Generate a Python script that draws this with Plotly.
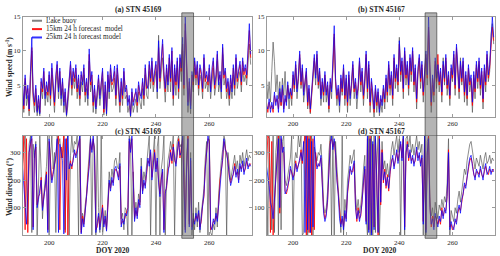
import plotly.graph_objects as go

# ---------------- data (0.5-day samples) ----------------
DOY_START = 190.0
DOY_STEP = 0.5

# (a) STN 45169 wind speed (m/s)
SPD_45169_BUOY = [
    4.0, 1.0, 5.5, 2.0, 3.5, 0.5, 5.0, 10.0, 3.0, 1.0,
    3.5, 0.5, 2.0, 0.5, 4.5, 3.0, 6.0, 2.0, 4.0, 2.5,
    5.5, 2.0, 6.5, 3.5, 1.0, 5.0, 7.0, 3.0, 6.0, 2.0,
    4.5, 1.0, 3.0, 0.4, 2.0, 4.5, 7.0, 3.5, 6.0, 4.5,
    6.5, 3.0, 5.0, 2.0, 5.5, 4.0, 6.5, 2.5, 4.5, 2.0,
    8.5, 4.0, 5.5, 1.0, 3.5, 0.8, 3.0, 5.0, 2.0, 4.0,
    6.0, 0.6, 4.0, 0.5, 5.5, 3.0, 6.5, 4.0, 4.5, 6.0,
    2.0, 6.5, 3.5, 1.0, 4.5, 2.0, 6.0, 3.0, 3.5, 1.0,
    2.0, 0.3, 3.0, 1.0, 2.0, 3.0, 1.0, 4.0, 2.5, 1.5,
    4.5, 2.0, 6.5, 3.5, 3.0, 7.0, 4.5, 7.5, 4.0, 6.0,
    7.0, 3.0, 12.3, 4.5, 7.5, 9.0, 5.5, 2.5, 6.5, 4.0,
    8.0, 4.0, 8.5, 2.0, 6.5, 3.5, 7.5, 3.0, 8.0, 5.5,
    10.0, 3.5, 13.0, 7.0, 1.0, 4.5, 0.8, 5.5, 4.0, 7.5,
    5.0, 7.0, 3.5, 6.5, 5.5, 3.0, 8.0, 4.5, 5.5, 4.0,
    6.5, 3.0, 6.0, 7.5, 3.5, 5.0, 8.5, 4.0, 5.5, 3.0,
    9.5, 5.0, 6.0, 3.0, 4.5, 2.0, 5.0, 3.0, 6.5, 3.5,
    8.0, 4.5, 6.0, 7.0, 4.0, 7.5, 5.5, 6.5, 5.0, 8.5,
    11.0, 8.0,
]
SPD_45169_15KM = [
    5.0, 1.5, 6.0, 3.5, 4.5, 1.2, 6.5, 10.5, 3.5, 2.0,
    4.5, 1.2, 3.0, 1.0, 5.5, 4.0, 7.0, 3.5, 5.0, 3.5,
    6.5, 3.0, 7.5, 4.5, 2.0, 6.0, 8.0, 4.5, 7.0, 3.5,
    5.5, 2.5, 4.0, 0.8, 3.0, 5.5, 8.0, 4.5, 7.0, 5.5,
    7.5, 4.0, 6.0, 3.0, 6.5, 5.5, 7.5, 3.5, 5.5, 3.5,
    9.5, 5.0, 6.5, 2.0, 4.5, 1.8, 4.0, 6.0, 3.5, 5.0,
    7.0, 1.0, 5.0, 1.2, 6.5, 4.5, 7.5, 5.0, 5.5, 7.0,
    3.0, 7.5, 4.5, 2.0, 5.5, 3.0, 7.0, 4.5, 4.5, 2.5,
    3.0, 0.8, 4.0, 2.5, 3.5, 4.0, 2.0, 5.0, 3.5, 3.5,
    5.5, 3.0, 7.5, 4.5, 5.0, 8.0, 5.5, 8.5, 5.0, 7.0,
    8.0, 4.5, 10.5, 5.5, 8.5, 11.0, 6.5, 4.0, 7.5, 5.5,
    9.0, 5.5, 10.0, 3.0, 7.5, 5.0, 8.5, 4.0, 9.0, 7.0,
    11.0, 4.5, 14.0, 8.5, 2.5, 5.5, 2.0, 6.5, 5.0, 8.5,
    6.0, 8.0, 4.5, 7.5, 6.5, 4.0, 9.0, 5.5, 6.5, 5.0,
    7.5, 4.5, 7.0, 8.5, 4.5, 6.0, 9.5, 5.5, 6.5, 4.5,
    10.5, 6.0, 7.0, 4.0, 5.5, 3.0, 6.0, 4.5, 7.5, 4.5,
    9.0, 5.5, 7.0, 8.0, 5.0, 8.5, 6.5, 7.5, 6.0, 9.5,
    13.0, 9.0,
]
SPD_45169_25KM = [
    5.5, 2.0, 6.5, 3.0, 5.0, 1.5, 7.0, 12.0, 4.0, 2.5,
    5.0, 1.0, 3.5, 0.8, 6.0, 4.5, 7.5, 3.0, 5.5, 4.0,
    7.0, 3.5, 8.2, 5.0, 2.5, 6.5, 8.5, 4.0, 7.5, 3.0,
    6.0, 2.0, 4.5, 0.6, 3.5, 6.0, 8.5, 5.0, 7.5, 6.0,
    8.0, 4.5, 6.5, 3.5, 7.0, 5.0, 8.0, 4.0, 6.0, 3.0,
    10.3, 5.5, 7.0, 2.5, 5.0, 1.5, 4.5, 6.5, 3.0, 5.5,
    7.5, 1.5, 5.5, 0.8, 7.0, 4.0, 8.0, 5.5, 6.0, 7.8,
    3.5, 8.0, 5.0, 2.5, 6.0, 3.5, 7.5, 4.0, 5.0, 2.0,
    3.5, 0.5, 4.5, 2.0, 3.0, 4.5, 2.5, 5.5, 4.0, 3.0,
    6.0, 3.5, 8.0, 5.0, 4.5, 8.5, 6.0, 9.0, 5.5, 7.5,
    8.5, 4.0, 11.5, 6.0, 9.0, 11.7, 7.0, 4.5, 8.0, 5.0,
    9.5, 6.0, 10.5, 3.5, 8.0, 5.5, 9.0, 4.5, 9.5, 7.5,
    12.0, 5.0, 15.0, 9.0, 2.0, 6.0, 1.5, 7.0, 5.5, 9.0,
    6.5, 8.5, 5.0, 8.0, 7.0, 4.5, 9.5, 6.0, 7.0, 5.5,
    8.0, 4.0, 7.5, 9.0, 5.0, 6.5, 10.0, 5.0, 7.0, 4.0,
    11.0, 6.5, 7.5, 4.5, 6.0, 3.5, 6.5, 4.0, 8.0, 5.0,
    9.5, 6.0, 7.5, 8.5, 5.5, 9.0, 7.0, 8.0, 6.5, 10.0,
    14.0, 9.5,
]

# (b) STN 45167 wind speed (m/s)
SPD_45167_BUOY = [
    6.0, 3.0, 5.5, 2.5, 7.0, 11.3, 8.5, 4.0, 6.5, 3.0,
    5.5, 2.0, 6.0, 3.5, 7.0, 2.5, 5.0, 1.5, 4.5, 2.0,
    6.0, 4.0, 7.5, 3.0, 5.5, 9.0, 4.5, 7.0, 2.5, 5.0,
    6.5, 1.5, 4.0, 0.8, 3.0, 6.0, 8.5, 5.0, 9.0, 4.5,
    6.5, 2.0, 5.0, 2.5, 6.0, 2.5, 4.5, 1.0, 5.0, 3.0,
    7.0, 12.0, 5.0, 2.0, 4.0, 1.0, 5.5, 3.5, 7.0, 2.0,
    5.5, 1.0, 6.0, 2.0, 4.5, 7.5, 3.0, 5.0, 1.5, 4.0,
    8.0, 4.0, 6.5, 2.0, 5.0, 9.0, 3.0, 7.5, 1.0, 4.5,
    2.5, 0.3, 4.0, 1.0, 3.5, 0.5, 2.5, 1.0, 4.0, 1.5,
    5.5, 2.5, 7.5, 3.5, 6.0, 2.0, 8.5, 4.5, 7.0, 4.0,
    12.0, 5.5, 8.0, 3.0, 9.5, 5.0, 7.5, 3.5, 8.5, 5.5,
    9.5, 4.0, 7.0, 1.5, 6.5, 8.5, 4.5, 7.5, 2.5, 5.5,
    9.0, 5.0, 13.0, 6.5, 1.0, 5.0, 2.5, 8.0, 4.5, 7.0,
    4.0, 6.5, 2.5, 9.0, 5.0, 8.5, 3.5, 6.0, 2.0, 7.0,
    5.5, 9.0, 3.5, 10.0, 6.5, 3.0, 9.0, 5.0, 8.0, 2.5,
    6.0, 2.0, 7.0, 4.0, 5.5, 1.0, 6.0, 3.0, 7.5, 4.5,
    8.0, 3.5, 6.5, 1.5, 7.0, 4.0, 9.0, 5.5, 7.0, 12.5,
    14.0, 11.0,
]
SPD_45167_15KM = [
    2.5, 1.0, 2.5, 1.5, 2.0, 1.0, 3.5, 2.5, 3.0, 1.5,
    4.0, 2.0, 4.5, 1.5, 3.0, 2.5, 5.0, 3.5, 4.0, 3.0,
    6.5, 4.5, 8.0, 4.5, 6.0, 9.5, 5.0, 7.5, 4.0, 5.5,
    7.0, 2.0, 4.5, 1.0, 3.5, 6.5, 9.0, 6.5, 9.5, 5.0,
    7.0, 3.5, 5.5, 3.5, 6.5, 4.0, 5.0, 1.5, 5.5, 4.5,
    7.5, 12.5, 5.5, 3.0, 4.5, 2.5, 6.0, 4.0, 7.5, 3.0,
    6.0, 2.0, 6.5, 3.5, 5.0, 8.0, 4.0, 5.5, 3.5, 4.5,
    8.5, 5.0, 7.0, 3.0, 5.5, 9.5, 4.0, 8.0, 2.0, 5.5,
    3.5, 1.0, 4.5, 2.0, 4.0, 1.5, 3.0, 2.5, 4.5, 2.5,
    6.0, 3.5, 8.0, 4.5, 6.5, 3.0, 9.0, 5.5, 7.5, 5.0,
    11.0, 6.5, 8.5, 4.0, 10.0, 6.0, 8.0, 4.5, 9.0, 6.5,
    10.0, 5.0, 7.5, 2.5, 7.0, 9.0, 5.5, 8.0, 3.5, 6.5,
    9.5, 6.0, 13.5, 7.5, 2.0, 6.0, 3.5, 8.5, 5.5, 9.5,
    5.0, 7.0, 3.5, 8.0, 5.5, 9.0, 4.5, 6.5, 3.0, 7.5,
    6.0, 9.5, 4.5, 10.5, 7.0, 4.0, 8.0, 5.5, 8.5, 3.5,
    6.5, 3.0, 7.5, 5.0, 6.0, 2.0, 6.5, 4.0, 8.0, 5.5,
    8.5, 4.5, 7.0, 2.5, 7.5, 5.0, 9.5, 6.0, 7.5, 10.0,
    13.5, 11.5,
]
SPD_45167_25KM = [
    2.0, 1.5, 3.0, 1.0, 2.5, 1.5, 4.0, 2.0, 3.5, 1.0,
    4.5, 2.5, 5.0, 1.0, 3.5, 2.0, 5.5, 3.0, 4.5, 3.5,
    7.0, 5.0, 8.5, 4.0, 6.5, 10.0, 5.5, 8.0, 3.5, 6.0,
    7.5, 2.5, 5.0, 1.5, 4.0, 7.0, 9.5, 6.0, 10.0, 5.5,
    7.5, 3.0, 6.0, 4.0, 7.0, 3.5, 5.5, 2.0, 6.0, 4.0,
    8.0, 13.7, 6.0, 3.5, 5.0, 2.0, 6.5, 4.5, 8.0, 3.5,
    6.5, 2.5, 7.0, 3.0, 5.5, 8.5, 4.5, 6.0, 3.0, 5.0,
    9.0, 5.5, 7.5, 3.5, 6.0, 10.0, 4.5, 8.5, 2.5, 6.0,
    4.0, 1.5, 5.0, 2.5, 4.5, 1.0, 3.5, 2.0, 5.0, 3.0,
    6.5, 4.0, 8.5, 5.0, 7.0, 3.5, 9.5, 6.0, 8.0, 5.5,
    11.5, 7.0, 9.0, 4.5, 10.5, 6.5, 8.5, 5.0, 9.5, 7.0,
    10.5, 5.5, 8.0, 3.0, 7.5, 9.5, 6.0, 8.5, 4.0, 7.0,
    10.0, 6.5, 15.0, 8.0, 2.5, 6.5, 4.0, 9.0, 6.0, 8.0,
    5.5, 7.5, 4.0, 8.5, 6.0, 9.5, 5.0, 7.0, 3.5, 8.0,
    6.5, 10.0, 5.0, 11.0, 7.5, 4.5, 8.5, 6.0, 9.0, 4.0,
    7.0, 3.5, 8.0, 5.5, 6.5, 2.5, 7.0, 4.5, 8.5, 6.0,
    9.0, 5.0, 7.5, 3.0, 8.0, 5.5, 10.0, 6.5, 8.0, 11.0,
    15.0, 12.0,
]

# (c) STN 45169 wind direction (deg)
DIR_45169_BUOY = [
    260, 300, 360, 200, 40, 330, 360, 10, 330, 280,
    340, 0, 150, 360, 230, 60, 150, 200, 250, 360,
    0, 280, 360, 240, 300, 10, 360, 330, 350, 280,
    300, 360, 20, 340, 360, 0, 290, 360, 300, 340,
    330, 360, 0, 360, 20, 80, 50, 110, 150, 230,
    300, 360, 0, 340, 320, 0, 360, 100, 10, 360,
    0, 50, 90, 30, 140, 230, 180, 240, 210, 270,
    280, 250, 240, 300, 60, 80, 20, 100, 90, 0,
    360, 340, 0, 230, 70, 120, 80, 150, 120, 280,
    170, 230, 200, 260, 320, 360, 0, 240, 300, 360,
    0, 320, 360, 0, 240, 280, 360, 0, 200, 270,
    300, 340, 310, 360, 0, 280, 340, 360, 320, 330,
    0, 360, 30, 290, 360, 50, 300, 0, 80, 20,
    100, 30, 120, 10, 80, 130, 170, 280, 340, 0,
    360, 10, 0, 40, 20, 100, 30, 150, 220, 270,
    310, 360, 340, 0, 300, 250, 200, 230, 260, 290,
    240, 270, 220, 290, 260, 300, 250, 280, 310, 270,
    290, 280,
]
DIR_45169_15KM = [
    240, 360, 20, 350, 10, 300, 330, 350, 30, 290,
    320, 110, 140, 150, 210, 100, 140, 170, 230, 20,
    340, 250, 200, 230, 260, 280, 340, 360, 20, 320,
    280, 360, 10, 350, 0, 250, 270, 240, 280, 300,
    290, 310, 330, 350, 10, 70, 40, 80, 140, 210,
    260, 340, 310, 350, 300, 20, 30, 70, 30, 70,
    110, 40, 60, 20, 110, 190, 170, 200, 190, 230,
    240, 230, 210, 250, 40, 50, 50, 70, 80, 100,
    340, 310, 350, 210, 60, 90, 70, 120, 110, 240,
    160, 190, 180, 220, 270, 260, 300, 210, 250, 310,
    240, 270, 200, 150, 210, 230, 20, 160, 170, 240,
    250, 310, 260, 330, 270, 260, 290, 350, 280, 310,
    350, 210, 20, 240, 360, 40, 270, 30, 50, 50,
    70, 60, 80, 30, 50, 110, 140, 250, 290, 350,
    340, 20, 30, 50, 50, 70, 60, 110, 200, 240,
    270, 340, 320, 290, 270, 210, 190, 210, 220, 260,
    220, 230, 200, 250, 240, 260, 230, 240, 270, 250,
    250, 260,
]
DIR_45169_25KM = [
    250, 180, 100, 40, 150, 300, 340, 360, 20, 300,
    330, 100, 130, 160, 200, 90, 130, 180, 220, 10,
    350, 240, 190, 220, 250, 290, 350, 10, 330, 300,
    270, 5, 350, 200, 360, 240, 260, 250, 270, 310,
    280, 300, 340, 360, 5, 60, 30, 90, 130, 200,
    250, 350, 300, 360, 290, 10, 40, 80, 20, 60,
    100, 30, 70, 15, 120, 200, 160, 210, 180, 240,
    250, 220, 200, 260, 30, 60, 40, 80, 70, 90,
    350, 300, 360, 200, 50, 100, 60, 130, 100, 250,
    150, 200, 170, 230, 280, 250, 310, 200, 260, 300,
    230, 280, 190, 140, 200, 240, 10, 150, 180, 230,
    260, 300, 270, 320, 280, 250, 300, 340, 290, 300,
    360, 200, 10, 250, 350, 30, 280, 20, 60, 40,
    80, 50, 90, 20, 60, 100, 150, 240, 300, 360,
    330, 30, 20, 60, 40, 80, 50, 120, 190, 230,
    280, 350, 310, 300, 260, 220, 180, 200, 230, 250,
    210, 240, 190, 260, 230, 270, 220, 250, 280, 240,
    260, 250,
]

# (d) STN 45167 wind direction (deg)
DIR_45167_BUOY = [
    280, 0, 360, 200, 20, 360, 10, 300, 360, 0,
    360, 20, 340, 360, 200, 180, 220, 260, 280, 360,
    0, 260, 300, 280, 360, 320, 360, 0, 10, 360,
    340, 0, 360, 10, 360, 0, 320, 290, 270, 300,
    290, 330, 250, 110, 80, 100, 160, 300, 360, 0,
    360, 0, 340, 250, 190, 100, 10, 360, 0, 130,
    80, 200, 240, 290, 260, 280, 310, 150, 90, 130,
    80, 110, 160, 240, 290, 70, 0, 360, 0, 360,
    0, 360, 10, 250, 360, 0, 160, 340, 240, 270,
    220, 260, 210, 270, 310, 340, 290, 330, 360, 300,
    350, 0, 310, 360, 0, 350, 360, 320, 360, 300,
    330, 290, 320, 360, 310, 340, 300, 330, 0, 360,
    0, 340, 360, 140, 70, 100, 50, 120, 90, 60,
    110, 90, 130, 100, 140, 120, 190, 350, 0, 90,
    70, 50, 100, 80, 130, 160, 120, 170, 200, 240,
    220, 270, 300, 330, 340, 300, 270, 240, 280, 260,
    250, 290, 270, 240, 280, 300, 260, 270, 290, 260,
    280, 270,
]
DIR_45167_15KM = [
    240, 360, 350, 10, 340, 0, 120, 210, 290, 360,
    80, 350, 310, 300, 160, 150, 170, 210, 240, 230,
    210, 220, 270, 240, 260, 270, 310, 260, 330, 360,
    0, 360, 10, 360, 0, 350, 20, 300, 250, 250,
    260, 280, 190, 90, 60, 80, 120, 250, 340, 350,
    320, 340, 290, 210, 140, 70, 40, 60, 30, 80,
    60, 150, 210, 240, 230, 230, 260, 110, 50, 100,
    60, 70, 130, 190, 240, 50, 350, 20, 360, 10,
    330, 30, 350, 210, 0, 360, 110, 310, 190, 240,
    170, 220, 160, 220, 270, 280, 250, 270, 300, 270,
    310, 330, 280, 350, 30, 290, 340, 270, 300, 270,
    280, 260, 270, 310, 280, 290, 260, 280, 50, 350,
    20, 290, 360, 110, 30, 70, 30, 70, 60, 40,
    60, 40, 100, 70, 90, 90, 140, 310, 30, 40,
    20, 30, 50, 50, 80, 100, 90, 120, 160, 180,
    180, 210, 240, 270, 280, 260, 220, 210, 230, 230,
    220, 240, 220, 210, 230, 250, 230, 220, 240, 230,
    230, 240,
]
DIR_45167_25KM = [
    250, 220, 180, 120, 100, 60, 130, 200, 300, 350,
    100, 360, 300, 320, 150, 160, 180, 200, 250, 220,
    200, 230, 260, 230, 250, 280, 300, 270, 340, 10,
    360, 20, 350, 10, 340, 30, 360, 280, 240, 260,
    250, 290, 200, 80, 50, 70, 130, 260, 330, 360,
    310, 350, 300, 200, 150, 60, 30, 70, 20, 90,
    50, 160, 200, 250, 220, 240, 270, 100, 60, 90,
    50, 80, 120, 200, 250, 40, 360, 10, 350, 0,
    340, 20, 360, 200, 10, 350, 120, 300, 200, 230,
    180, 210, 170, 230, 260, 290, 240, 280, 310, 260,
    300, 340, 270, 360, 20, 300, 330, 280, 310, 260,
    290, 250, 280, 320, 270, 300, 250, 290, 40, 360,
    10, 300, 350, 100, 40, 60, 20, 80, 50, 30,
    70, 50, 90, 60, 100, 80, 150, 300, 20, 50,
    30, 20, 60, 40, 90, 110, 80, 130, 150, 190,
    170, 220, 250, 280, 290, 250, 230, 200, 240, 220,
    210, 250, 230, 200, 240, 260, 220, 230, 250, 220,
    240, 230,
]

X_RANGE = [190.2, 276.0]
X_TICKS = [200, 220, 240, 260]
SPD_RANGE = [0.3, 15.0]
SPD_TICKS = [5, 10, 15]
DIR_RANGE = [0, 360]
DIR_TICKS = [100, 200, 300]
HIGHLIGHT_DOY = [249.7, 254.1]

SERIES_NAMES = ["Lake buoy", "15km 24 h forecast  model", "25km 24 h forecast model"]
SERIES_COLORS = ["rgba(85,85,85,0.75)", "rgba(255,0,0,0.9)", "rgba(0,0,255,0.8)"]

FONT = "Liberation Serif, Times New Roman, serif"

doy = [DOY_START + DOY_STEP * i for i in range(len(SPD_45169_BUOY))]

panels = [
    ("x", "y", [SPD_45169_BUOY, SPD_45169_15KM, SPD_45169_25KM]),
    ("x2", "y2", [SPD_45167_BUOY, SPD_45167_15KM, SPD_45167_25KM]),
    ("x3", "y3", [DIR_45169_BUOY, DIR_45169_15KM, DIR_45169_25KM]),
    ("x4", "y4", [DIR_45167_BUOY, DIR_45167_15KM, DIR_45167_25KM]),
]

fig = go.Figure()
for xa, ya, series in panels:
    for name, color, vals in zip(SERIES_NAMES, SERIES_COLORS, series):
        fig.add_trace(go.Scatter(
            x=doy, y=vals, mode="lines", name=name, xaxis=xa, yaxis=ya,
            line=dict(color=color, width=0.9), showlegend=False, hoverinfo="skip",
        ))

W, H = 500, 256
def px_x(p): return p / W
def px_y(p): return 1 - p / H

XD_L = [px_x(23), px_x(252)]
XD_R = [px_x(267), px_x(495)]
YD_T = [px_y(115), px_y(13)]
YD_B = [px_y(235), px_y(134)]

axis_common = dict(
    showline=True, linecolor="#9b9b9b", linewidth=1, mirror="ticks",
    ticks="inside", ticklen=3, tickcolor="#9b9b9b", showgrid=False, zeroline=False,
    tickfont=dict(family=FONT, size=7, color="#262626"),
)

fig.update_layout(
    width=W, height=H, margin=dict(l=0, r=0, t=0, b=0),
    paper_bgcolor="white", plot_bgcolor="white", showlegend=False,
    xaxis=dict(domain=XD_L, anchor="y", range=X_RANGE, tickvals=X_TICKS,
               ticklabelstandoff=-1, **axis_common),
    yaxis=dict(domain=YD_T, anchor="x", range=SPD_RANGE, tickvals=SPD_TICKS, **axis_common),
    xaxis2=dict(domain=XD_R, anchor="y2", range=X_RANGE, tickvals=X_TICKS,
                ticklabelstandoff=-1, **axis_common),
    yaxis2=dict(domain=YD_T, anchor="x2", range=SPD_RANGE, tickvals=SPD_TICKS, **axis_common),
    xaxis3=dict(domain=XD_L, anchor="y3", range=X_RANGE, tickvals=X_TICKS, **axis_common),
    yaxis3=dict(domain=YD_B, anchor="x3", range=DIR_RANGE, tickvals=DIR_TICKS, **axis_common),
    xaxis4=dict(domain=XD_R, anchor="y4", range=X_RANGE, tickvals=X_TICKS, **axis_common),
    yaxis4=dict(domain=YD_B, anchor="x4", range=DIR_RANGE, tickvals=DIR_TICKS, **axis_common),
)

# highlighted event window spanning both rows of each column
for xr in ["x", "x2"]:
    fig.add_shape(type="rect", xref=xr, yref="paper",
                  x0=HIGHLIGHT_DOY[0], x1=HIGHLIGHT_DOY[1], y0=px_y(238), y1=px_y(9),
                  fillcolor="rgba(105,105,105,0.5)",
                  line=dict(color="rgba(60,60,60,0.85)", width=0.8), layer="above")

# manual legend inside panel (a)
leg_rows = [17, 25.5, 34]
for name, color, row in zip(SERIES_NAMES, SERIES_COLORS, leg_rows):
    fig.add_shape(type="line", xref="paper", yref="paper",
                  x0=px_x(32), x1=px_x(42), y0=px_y(row), y1=px_y(row),
                  line=dict(color=color, width=2))
    fig.add_annotation(text=name, xref="paper", yref="paper",
                       x=px_x(44), y=px_y(row), xanchor="left", yanchor="middle",
                       showarrow=False, font=dict(family=FONT, size=7.2, color="#262626"))

# panel titles
titles = [("(a) STN 45169", 138, 6), ("(b) STN 45167", 381, 6),
          ("(c) STN 45169", 138, 129.5), ("(d) STN 45167", 381, 129.5)]
for t, xp, yp in titles:
    fig.add_annotation(text=f"<b>{t}</b>", xref="paper", yref="paper",
                       x=px_x(xp), y=px_y(yp), xanchor="center", yanchor="middle",
                       showarrow=False, font=dict(family=FONT, size=7.6, color="#262626"))

# axis titles
fig.add_annotation(text="<b>Wind speed (m s<sup>-1</sup>)</b>", xref="paper", yref="paper",
                   x=px_x(9), y=px_y(64), textangle=-90, xanchor="center", yanchor="middle",
                   showarrow=False, font=dict(family=FONT, size=7.5, color="#262626"))
fig.add_annotation(text="<b>Wind direction (°)</b>", xref="paper", yref="paper",
                   x=px_x(9), y=px_y(186), textangle=-90, xanchor="center", yanchor="middle",
                   showarrow=False, font=dict(family=FONT, size=7.5, color="#262626"))
for xp in [113, 380]:
    fig.add_annotation(text="<b>DOY 2020</b>", xref="paper", yref="paper",
                       x=px_x(xp), y=px_y(250.5), xanchor="center", yanchor="middle",
                       showarrow=False, font=dict(family=FONT, size=7.5, color="#262626"))

fig.write_html(
    "out.html",
    config={"displayModeBar": False, "staticPlot": True},
    post_script="document.body.style.margin='0';document.body.style.padding='0';"
                "document.body.style.overflow='hidden';",
)
